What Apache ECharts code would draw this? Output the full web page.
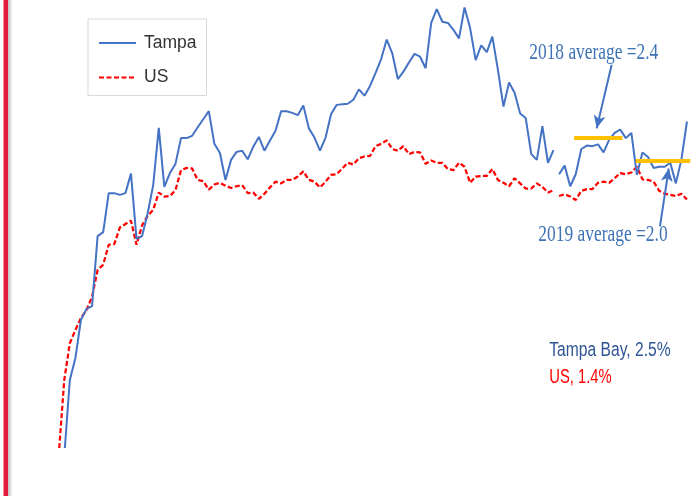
<!DOCTYPE html>
<html>
<head>
<meta charset="utf-8">
<script src="https://cdn.jsdelivr.net/npm/echarts@6/dist/echarts.min.js"></script>
<style>
  html, body { margin: 0; padding: 0; background: #fff; }
  #chart { width: 700px; height: 496px; }
</style>
</head>
<body>
<div id="chart"></div>
<script>
// year-over-year job growth, %, monthly points (index = month)
const tampa = [
  -4.0, -3.16, -1.83, -1.45, -0.78, -0.59, -0.54, 0.68, 0.75, 1.43,
  1.43, 1.40, 1.43, 1.77, 0.63, 0.68, 1.08, 1.57, 2.57, 1.54,
  1.78, 1.94, 2.39, 2.39, 2.43, 2.58, 2.72, 2.86, 2.29, 2.13,
  1.66, 2.01, 2.15, 2.17, 2.02, 2.24, 2.41, 2.17, 2.35, 2.52,
  2.86, 2.86, 2.83, 2.79, 2.96, 2.56, 2.40, 2.17, 2.40, 2.81,
  2.97, 2.98, 2.99, 3.06, 3.24, 3.13, 3.30, 3.53, 3.77, 4.11,
  3.87, 3.42, 3.55, 3.71, 3.86, 3.81, 3.61, 4.40, 4.64, 4.42,
  4.40, 4.28, 4.13, 4.67, 4.31, 3.75, 4.01, 3.89, 4.16, 3.58,
  2.94, 3.36, 3.18, 2.82, 2.74, 2.11, 2.01, 2.60, 1.96, 2.18,
  1.76, 1.91, 1.55, 1.76, 2.20, 2.26, 2.25, 2.28, 2.14, 2.36,
  2.48, 2.54, 2.39, 2.48, 1.75, 2.14, 2.06, 1.87, 1.89, 1.89,
  1.96, 1.60, 2.01, 2.68
];
const us = [
  -3.15, -1.83, -1.19, -0.96, -0.75, -0.61, -0.38, 0.09, 0.18, 0.53,
  0.54, 0.83, 0.89, 0.95, 0.53, 0.87, 1.03, 1.14, 1.44, 1.37,
  1.38, 1.48, 1.83, 1.87, 1.86, 1.66, 1.64, 1.49, 1.58, 1.61,
  1.56, 1.52, 1.55, 1.57, 1.43, 1.44, 1.33, 1.42, 1.53, 1.63,
  1.60, 1.66, 1.66, 1.72, 1.81, 1.66, 1.63, 1.53, 1.63, 1.75,
  1.76, 1.86, 1.96, 1.93, 2.04, 2.07, 2.08, 2.25, 2.29, 2.35,
  2.20, 2.17, 2.25, 2.11, 2.15, 2.14, 1.94, 2.00, 1.96, 1.96,
  1.85, 1.83, 1.96, 1.89, 1.61, 1.72, 1.73, 1.73, 1.85, 1.66,
  1.61, 1.55, 1.69, 1.60, 1.51, 1.51, 1.60, 1.54, 1.44, 1.48,
  1.38, 1.41, 1.37, 1.31, 1.47, 1.50, 1.50, 1.61, 1.63, 1.61,
  1.69, 1.78, 1.76, 1.79, 1.89, 1.67, 1.66, 1.63, 1.47, 1.42,
  1.40, 1.38, 1.42, 1.32
];
const gapAfter = 89; // both lines break here

// yearly averages (hand drawn bars), value and month span
const avgLabels = ["2018 average =2.4", "2019 average =2.0"];
const avgValues = [2.4, 2.0];
const avgSpans = [[92.7, 101.4], [103.8, 113.6]];
// arrows pointing at the bars: [from, to] in [month, %]
const arrows = [
  [[99.46, 3.67], [96.76, 2.56]],
  [[108.15, 0.85], [109.73, 1.86]],
];

const latestLabels = ["Tampa Bay, 2.5%", "US, 1.4%"];

function toPairs(vals) {
  const out = [];
  vals.forEach((v, i) => {
    out.push([i, v]);
    if (i === gapAfter) out.push([i + 0.5, "-"]);
  });
  return out;
}

const SERIF = "'Liberation Serif', 'DejaVu Serif', serif";
const SANS = "'Liberation Sans', Arial, sans-serif";

// the picture is squeezed sideways, so texts get a scaleX to fit their width
const measure = document.createElement("canvas").getContext("2d");
function squeezed(text, x, y, width, size, family, color) {
  measure.font = size + "px " + family;
  const s = width / measure.measureText(text).width;
  return {
    type: "text",
    x: x,
    y: y,
    scaleX: s,
    z: 100,
    silent: true,
    style: {
      text: text,
      fontSize: size,
      fontFamily: family,
      fill: color,
      textAlign: "left",
      textVerticalAlign: "middle",
    },
  };
}

const blue = "#4472C4";
const red = "#FF0000";
const gold = "#FFC000";

const markData = [];
avgValues.forEach((v, i) => {
  markData.push([
    { coord: [avgSpans[i][0], v], symbol: "none", lineStyle: { color: gold, width: 4, type: "solid" } },
    { coord: [avgSpans[i][1], v], symbol: "none" },
  ]);
});
arrows.forEach((a) => {
  markData.push([
    { coord: a[0], symbol: "none", lineStyle: { color: blue, width: 2, type: "solid" } },
    { coord: a[1], symbol: "arrow", symbolSize: [9, 13] },
  ]);
});

const chart = echarts.init(document.getElementById("chart"));
chart.setOption({
  animation: false,
  backgroundColor: "#fff",
  grid: { left: 58.7, right: 7.5, top: 0, bottom: 49 },
  xAxis: { type: "value", min: 0, max: 114, show: false },
  yAxis: { type: "value", min: -3, max: 4.8, show: false },
  legend: {
    orient: "vertical",
    left: 88,
    top: 19,
    itemWidth: 37,
    itemHeight: 20,
    itemGap: 16.5,
    padding: [15, 10, 9, 10],
    borderColor: "#d9d9d9",
    borderWidth: 1,
    backgroundColor: "#fff",
    itemStyle: { opacity: 0 },
    textStyle: {
      fontFamily: SANS,
      fontSize: 17.5,
      color: "#333333",
      padding: [0, 0, 0, 3],
    },
    data: ["Tampa", "US"],
  },
  series: [
    {
      name: "Tampa",
      type: "line",
      data: toPairs(tampa),
      symbol: "none",
      connectNulls: false,
      lineStyle: { color: blue, width: 2 },
      itemStyle: { color: blue },
      z: 3,
      markLine: {
        silent: true,
        animation: false,
        label: { show: false },
        emphasis: { disabled: true },
        data: markData,
      },
    },
    {
      name: "US",
      type: "line",
      data: toPairs(us),
      symbol: "none",
      connectNulls: false,
      lineStyle: { color: red, width: 2.25, type: [5, 2.5] },
      itemStyle: { color: red },
      z: 2,
    },
  ],
  graphic: [
    { type: "rect", shape: { x: 3.5, y: 0, width: 4.5, height: 496 }, style: { fill: "#E21A3C" }, silent: true },
    {
      type: "rect",
      shape: { x: 8, y: 0, width: 4, height: 496 },
      style: {
        fill: new echarts.graphic.LinearGradient(0, 0, 1, 0, [
          { offset: 0, color: "#bfbfbf" },
          { offset: 1, color: "#f2f2f2" },
        ]),
      },
      silent: true,
    },
    squeezed(avgLabels[0], 529.3, 53.5, 129, 22.5, SERIF, "#3D72B5"),
    squeezed(avgLabels[1], 538.3, 235.5, 129.3, 22.5, SERIF, "#3D72B5"),
    squeezed(latestLabels[0], 549.3, 350.5, 121.4, 19.5, SANS, "#2F5597"),
    squeezed(latestLabels[1], 549.3, 378, 62.4, 19.5, SANS, red),
  ],
});
</script>
</body>
</html>
